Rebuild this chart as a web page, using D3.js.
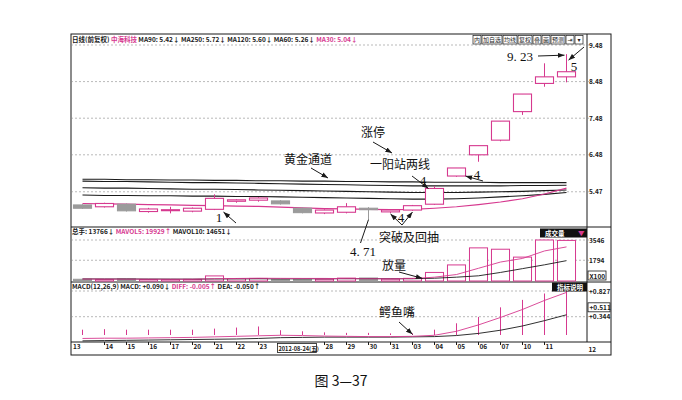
<!DOCTYPE html>
<html>
<head>
<meta charset="utf-8">
<style>
  body { margin: 0; background: #fff; }
  #chart text { font-family: "Noto Sans CJK SC", "DejaVu Sans", sans-serif; }
  #chart .small { font-size: 6.5px; font-weight: bold; fill: #1a1a1a; }
  #chart .note { font-size: 12px; fill: #111; }
  #chart .num { font-family: "Liberation Serif", serif; font-size: 13px; fill: #111; }
  #chart .tick text { font-size: 6.5px; font-weight: bold; fill: #1a1a1a; }
  #chart .domain { display: none; }
</style>
<script src="https://d3js.org/d3.v7.min.js"></script>
</head>
<body>
<svg id="chart" width="682" height="400"></svg>
<script>
// trading days shown
var dates = ["2012-08-13","2012-08-14","2012-08-15","2012-08-16","2012-08-17","2012-08-20",
  "2012-08-21","2012-08-22","2012-08-23","2012-08-24","2012-08-27","2012-08-28","2012-08-29",
  "2012-08-30","2012-08-31","2012-09-03","2012-09-04","2012-09-05","2012-09-06","2012-09-07",
  "2012-09-10","2012-09-11","2012-09-12"];

// daily prices
var open  = [5.11,5.06,5.13,4.93,4.96,4.94,4.99,5.21,5.24,5.22,5.02,4.89,4.91,5.02,4.92,4.97,5.13,5.90,6.48,6.88,7.66,8.43,8.61];
var high  = [5.13,5.17,5.15,5.03,5.06,5.04,5.40,5.27,5.32,5.24,5.04,4.99,5.16,5.05,4.99,5.11,5.62,6.12,6.73,7.40,8.14,8.98,9.23];
var low   = [5.00,5.04,4.93,4.90,4.88,4.91,4.97,5.17,5.20,5.12,4.88,4.86,4.88,4.71,4.89,4.95,5.11,5.88,6.29,6.85,7.57,8.34,8.46];
var close = [5.02,5.15,4.95,5.00,4.98,5.02,5.29,5.25,5.30,5.14,4.90,4.97,5.06,4.98,4.97,5.09,5.56,6.12,6.73,7.40,8.14,8.61,8.75];

// moving averages of price
var ma250 = [5.81,5.81,5.80,5.80,5.79,5.79,5.78,5.78,5.77,5.77,5.76,5.76,5.75,5.75,5.74,5.74,5.73,5.73,5.73,5.72,5.72,5.72,5.72];
var ma120 = [5.76,5.75,5.75,5.74,5.73,5.72,5.72,5.71,5.70,5.69,5.68,5.67,5.66,5.65,5.64,5.63,5.63,5.63,5.63,5.63,5.64,5.64,5.65];
var ma90  = [5.58,5.57,5.57,5.56,5.55,5.54,5.54,5.53,5.52,5.51,5.50,5.49,5.48,5.47,5.46,5.45,5.45,5.45,5.46,5.47,5.48,5.50,5.52];
var ma60  = [5.38,5.37,5.37,5.36,5.36,5.35,5.35,5.34,5.34,5.33,5.32,5.31,5.30,5.29,5.28,5.27,5.27,5.28,5.30,5.33,5.36,5.40,5.45];
var ma30  = [5.15,5.14,5.13,5.12,5.11,5.10,5.09,5.08,5.07,5.05,5.03,5.01,5.00,4.99,4.98,4.99,5.02,5.06,5.12,5.19,5.28,5.41,5.57];

// volume (x100 hands) and its averages
var volume  = [150,120,180,130,120,140,440,200,220,138,160,150,250,260,160,230,740,1390,2865,2748,2066,3546,3510];
var mavol5  = [170,165,160,155,150,148,200,218,238,228,222,222,204,195,192,210,330,560,1100,1640,1950,2600,2950];
var mavol10 = [180,178,175,170,165,160,175,185,190,185,190,195,200,205,200,195,240,330,450,740,1070,1400,1760];

// MACD(12,26,9)
var diff = [-0.065,-0.06,-0.06,-0.055,-0.05,-0.045,-0.035,-0.025,-0.015,-0.005,-0.01,-0.02,-0.025,-0.03,-0.03,-0.025,-0.005,0.07,0.19,0.33,0.48,0.65,0.80];
var dea  = [-0.11,-0.105,-0.10,-0.095,-0.09,-0.085,-0.08,-0.075,-0.065,-0.05,-0.045,-0.04,-0.04,-0.04,-0.04,-0.035,-0.03,-0.01,0.03,0.09,0.17,0.27,0.38];
var macd = [0.10,0.11,0.10,0.10,0.10,0.10,0.12,0.14,0.16,0.09,0.07,0.05,0.04,0.04,0.03,0.03,0.10,0.22,0.34,0.52,0.66,0.78,0.827];

// axis labels
var priceTicks = [9.48, 8.48, 7.48, 6.48, 5.47];
var volTicks = [3546, 1794];
var macdTicks = [0.827, 0.344];

var svg = d3.select("#chart");
var pink = "#d6398f", gray = "#9b9b9b", ink = "#1a1a1a";
var L = 71, R = 587, RR = 611;

var x = d3.scaleBand().domain(dates).range([71.5, 577.5]).paddingInner(0.18).paddingOuter(0.09);
var cx = function(d) { return x(d) + x.bandwidth() / 2; };
var yP = d3.scaleLinear().domain([4.48, 9.48]).range([228, 45]);
var yV = d3.scaleLinear().domain([0, 3546]).range([281, 240]);
var yM = d3.scaleLinear().domain([0, 0.827]).range([335, 291]);

// arrow head
svg.append("defs").append("marker")
    .attr("id", "arr").attr("viewBox", "0 0 8 6").attr("refX", 8).attr("refY", 3)
    .attr("markerWidth", 7).attr("markerHeight", 5).attr("markerUnits", "userSpaceOnUse")
    .attr("orient", "auto")
  .append("path").attr("d", "M0,0L8,3L0,6Z").attr("fill", ink);

// frames
svg.append("rect").attr("x", L).attr("y", 34).attr("width", RR - L).attr("height", 321)
    .attr("fill", "none").attr("stroke", ink).attr("stroke-width", 1);
svg.append("line").attr("x1", R).attr("x2", R).attr("y1", 34).attr("y2", 342).attr("stroke", ink);
[227, 282, 342].forEach(function(y) {
  svg.append("line").attr("x1", L).attr("x2", RR).attr("y1", y).attr("y2", y).attr("stroke", ink);
});

// dashed grid
function grid(scale, ticks) {
  svg.append("g").selectAll("line").data(ticks).enter().append("line")
      .attr("x1", L).attr("x2", R + 2)
      .attr("y1", function(d) { return scale(d); }).attr("y2", function(d) { return scale(d); })
      .attr("stroke", "#8a8a8a").attr("stroke-width", 0.6).attr("stroke-dasharray", "2,2");
}
grid(yP, priceTicks);
grid(yV, volTicks);
grid(yM, macdTicks);

// right axes
svg.append("g").attr("transform", "translate(" + R + ",0)")
    .call(d3.axisRight(yP).tickValues(priceTicks).tickSize(0).tickPadding(2).tickFormat(d3.format(".2f")));
svg.append("g").attr("transform", "translate(" + R + ",0)")
    .call(d3.axisRight(yV).tickValues(volTicks).tickSize(0).tickPadding(2).tickFormat(d3.format("d")));
svg.append("g").attr("transform", "translate(" + R + ",0)")
    .call(d3.axisRight(yM).tickValues(macdTicks).tickSize(0).tickPadding(2).tickFormat(d3.format("+.3f")));

// boxed right labels
function boxLabel(xx, yy, w, t) {
  svg.append("rect").attr("x", xx).attr("y", yy - 5).attr("width", w).attr("height", 9)
      .attr("fill", "#fff").attr("stroke", ink).attr("stroke-width", 0.8);
  svg.append("text").attr("class", "small").attr("x", xx + 1.5).attr("y", yy + 2.5).text(t);
}
boxLabel(R + 1, 276, 18, "X100");
boxLabel(R + 1, yM(0.511), 22, "+0.511");

// price moving averages
var line = function(scale) {
  return d3.line().x(function(d, i) { return cx(dates[i]); }).y(function(d) { return scale(d); });
};
[ma250, ma120, ma90, ma60].forEach(function(s) {
  svg.append("path").attr("d", line(yP)(s)).attr("fill", "none").attr("stroke", ink).attr("stroke-width", 1.1);
});
svg.append("path").attr("d", line(yP)(ma30)).attr("fill", "none").attr("stroke", pink).attr("stroke-width", 1.2);

// candles
var candle = svg.append("g").selectAll("g").data(dates).enter().append("g");
candle.append("line")
    .attr("x1", cx).attr("x2", cx)
    .attr("y1", function(d, i) { return yP(high[i]); })
    .attr("y2", function(d, i) { return yP(low[i]); })
    .attr("stroke", function(d, i) { return close[i] >= open[i] ? pink : gray; });
candle.append("rect")
    .attr("x", function(d) { return x(d); })
    .attr("width", x.bandwidth())
    .attr("y", function(d, i) { return yP(Math.max(open[i], close[i])); })
    .attr("height", function(d, i) { return Math.max(1, Math.abs(yP(open[i]) - yP(close[i]))); })
    .attr("fill", function(d, i) { return close[i] >= open[i] ? "#fff" : gray; })
    .attr("stroke", function(d, i) { return close[i] >= open[i] ? pink : gray; })
    .attr("stroke-width", 1.1);

// volume bars
svg.append("g").selectAll("rect").data(dates).enter().append("rect")
    .attr("x", function(d) { return x(d); })
    .attr("width", x.bandwidth())
    .attr("y", function(d, i) { return yV(volume[i]); })
    .attr("height", function(d, i) { return yV(0) - yV(volume[i]); })
    .attr("fill", function(d, i) { return close[i] >= open[i] ? "#fff" : gray; })
    .attr("stroke", function(d, i) { return close[i] >= open[i] ? pink : gray; })
    .attr("stroke-width", 1);
svg.append("path").attr("d", line(yV)(mavol10)).attr("fill", "none").attr("stroke", ink).attr("stroke-width", 0.9);
svg.append("path").attr("d", line(yV)(mavol5)).attr("fill", "none").attr("stroke", pink).attr("stroke-width", 0.9);

// MACD
svg.append("g").selectAll("line").data(dates).enter().append("line")
    .attr("x1", cx).attr("x2", cx)
    .attr("y1", yM(0)).attr("y2", function(d, i) { return yM(macd[i]); })
    .attr("stroke", pink).attr("stroke-width", 1);
svg.append("path").attr("d", line(yM)(dea)).attr("fill", "none").attr("stroke", ink).attr("stroke-width", 0.9);
svg.append("path").attr("d", line(yM)(diff)).attr("fill", "none").attr("stroke", pink).attr("stroke-width", 0.9);

// x axis
var xTicks = dates.filter(function(d, i) { return i !== 9 && i !== 10 && i !== 22; });
var xAxis = svg.append("g").attr("transform", "translate(0,342)")
    .call(d3.axisBottom(x).tickValues(xTicks).tickSize(3).tickPadding(1)
      .tickFormat(function(d) { return d.slice(8); }));
xAxis.selectAll(".tick").attr("transform", function(d) { return "translate(" + cx(d) + ",0)"; });
xAxis.selectAll(".tick line").attr("stroke", ink);
xAxis.selectAll(".tick text").attr("text-anchor", "start").attr("dx", 1).attr("dy", "0.5em");
xAxis.select(".tick text").attr("dx", L + 2 - cx(dates[0]));
xAxis.select(".tick line").remove();
svg.append("text").attr("class", "small").attr("x", cx(dates[22]) + x.step()).attr("y", 351.5)
    .text(dates[22].slice(8));
// cursor date box
var cbx = cx(dates[9]) - 3;
svg.append("rect").attr("x", cbx).attr("y", 343.5).attr("width", 39).attr("height", 9)
    .attr("fill", "#fff").attr("stroke", ink).attr("stroke-width", 0.8);
svg.append("text").attr("class", "small").attr("x", cbx + 1).attr("y", 350.5)
    .style("font-size", "5.6px").text(dates[9] + "(五)");

// headers
function header(y, parts) {
  var t = svg.append("text").attr("class", "small").attr("x", L + 1).attr("y", y);
  parts.forEach(function(p) {
    t.append("tspan").text(p[0]).style("fill", p[1] ? pink : ink);
  });
}
header(42, [["日线(前复权) ", 0], ["中海科技", 1], [" MA90: 5.42↓ MA250: 5.72↓ MA120: 5.60↓ MA60: 5.26↓ ", 0], ["MA30: 5.04↓", 1]]);
header(233.5, [["总手: 13766↓ ", 0], ["MAVOL5: 19929↑", 1], [" MAVOL10: 14651↓", 0]]);
header(288.5, [["MACD(12,26,9) MACD: +0.090↓ ", 0], ["DIFF: -0.005↑", 1], [" DEA: -0.050↑", 0]]);

// toolbar buttons
var buttons = ["内", "加自选", "均线", "复权", "叠", "画", "预测", "⇥", "▾"];
var bx = 473;
buttons.forEach(function(b) {
  var w = b.length * 6 + 2;
  svg.append("rect").attr("x", bx).attr("y", 35.5).attr("width", w).attr("height", 8.5)
      .attr("fill", "#fff").attr("stroke", ink).attr("stroke-width", 0.7);
  svg.append("text").attr("class", "small").attr("x", bx + w / 2).attr("y", 42)
      .attr("text-anchor", "middle").style("font-weight", "normal").style("font-size", "6px").text(b);
  bx += w + 1;
});

// black badges
function badge(x0, y0, w, t, tri) {
  svg.append("rect").attr("x", x0).attr("y", y0).attr("width", w).attr("height", 9).attr("fill", "#111");
  svg.append("text").attr("class", "small").attr("x", x0 + 5).attr("y", y0 + 7).style("fill", "#fff").text(t);
  if (tri) svg.append("text").attr("class", "small").attr("x", x0 + w - 9).attr("y", y0 + 7).style("fill", pink).text("▼");
}
badge(540, 228.5, 47, "成交量", true);
badge(552, 282.5, 35, "指标说明", false);

// annotations
function arrow(x1, y1, x2, y2, head) {
  var l = svg.append("line").attr("x1", x1).attr("y1", y1).attr("x2", x2).attr("y2", y2)
      .attr("stroke", ink).attr("stroke-width", 1);
  if (head !== false) l.attr("marker-end", "url(#arr)");
}
function note(xx, yy, t, cls) {
  svg.append("text").attr("class", cls || "note").attr("x", xx).attr("y", yy)
      .attr("text-anchor", "middle").text(t);
}
var d22 = cx(dates[22]);
note(520, 61, "9. 23", "num");
arrow(538, 56, d22 - 2, yP(high[22]) + 1);
note(574, 71, "5", "num");
arrow(584, 47, d22 + 2, yP(high[22]) + 6);

note(373, 137, "涨停");
arrow(373, 142, 392, 153);
note(400, 169, "一阳站两线");
note(423, 185, "4", "num");
arrow(412, 176, x(dates[16]) + 3, yP(close[16]));
note(477, 179, "4", "num");
arrow(483, 181, x(dates[17]) + x.bandwidth(), yP(open[17]));

note(308, 164, "黄金通道");
arrow(311, 168, 328, 178);

note(219, 222, "1", "num");
arrow(236, 223, cx(dates[6]) + 9, yP(low[6]) + 2);

note(401, 222, "4", "num");
arrow(402, 225, cx(dates[14]), yP(open[14]) + 2);
arrow(402, 225, cx(dates[15]), yP(open[15]) + 2);
note(409, 242, "突破及回抽");

arrow(cx(dates[13]), yP(low[13]), cx(dates[13]) - 8, 243, false);
note(363, 256, "4. 71", "num");

note(394, 270, "放量");
arrow(399, 272, cx(dates[16]) - 12, yV(volume[16]) + 6);

note(397, 317, "鳄鱼嘴");
arrow(399, 322, cx(dates[15]), yM(diff[15]) - 2);

// caption
svg.append("text").attr("x", 341).attr("y", 386).attr("text-anchor", "middle")
    .style("font-size", "14px").style("fill", "#111").text("图 3—37");
</script>
</body>
</html>
